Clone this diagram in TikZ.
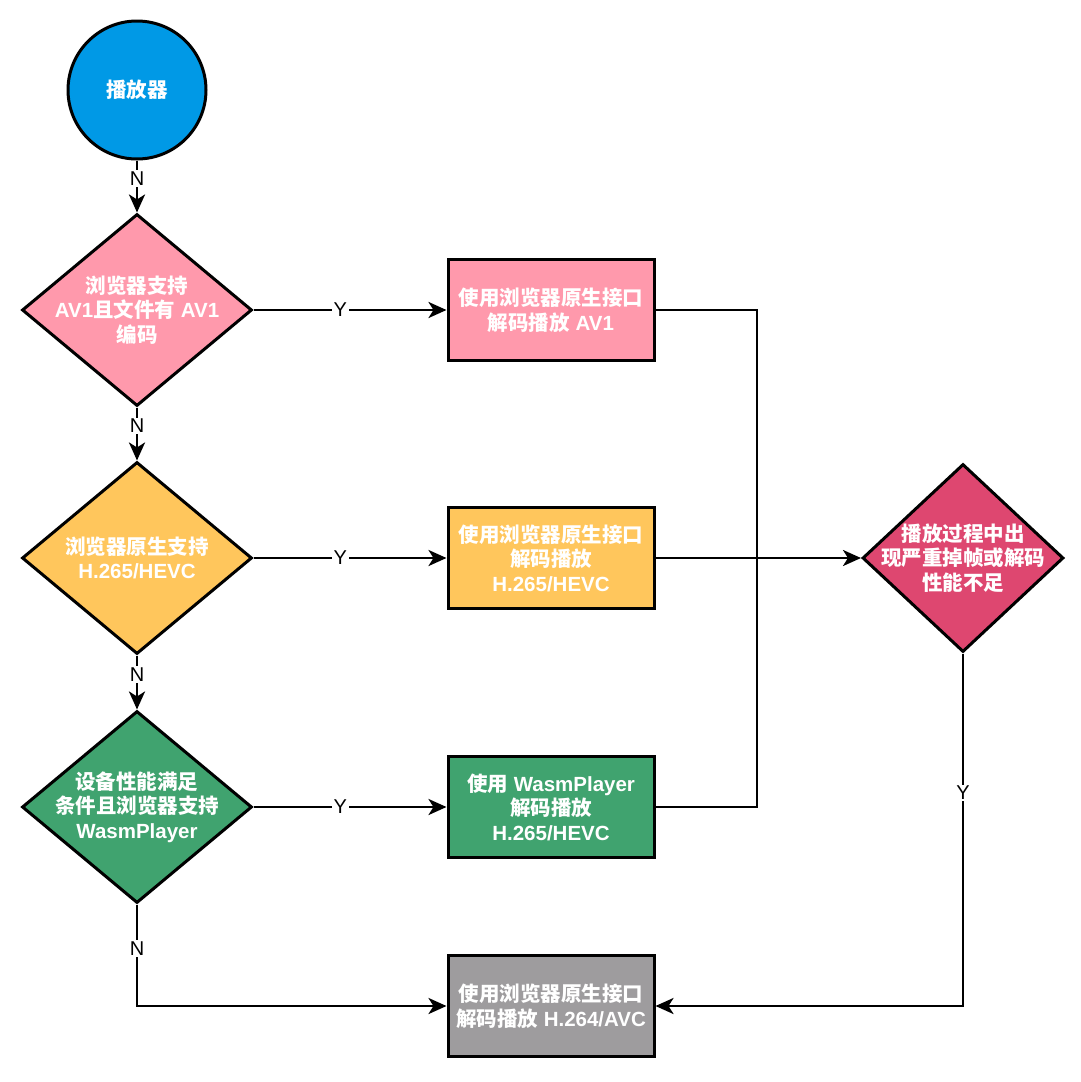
\documentclass[tikz,border=0pt]{standalone}
\usepackage{fontspec}
\setmainfont{Liberation Sans}
\newfontfamily\cjk{Noto Sans CJK SC}
\usetikzlibrary{shapes.geometric,arrows.meta}
\definecolor{cblue}{RGB}{0,153,230}
\definecolor{cpink}{RGB}{255,153,172}
\definecolor{cyellow}{RGB}{255,198,92}
\definecolor{cgreen}{RGB}{64,163,111}
\definecolor{cred}{RGB}{222,71,112}
\definecolor{cgray}{RGB}{158,156,158}
\tikzset{
  base/.style={draw=black, line width=3pt, inner sep=0pt},
  startnode/.style={base, circle, minimum size=138pt},
  dia/.style={base, diamond, minimum width=230pt, minimum height=192pt},
  rdia/.style={base, diamond, minimum width=201pt, minimum height=188pt},
  procbox/.style={base, rectangle, minimum width=206pt, minimum height=101pt},
  txt/.style={text=white, align=center, font=\bfseries\fontsize{20.5}{24.5}\selectfont},
  conn/.style={line width=2.8pt, -{Stealth[length=18pt,width=16pt,inset=5pt]}},
  lbl/.style={fill=white, inner sep=1.5pt, font=\fontsize{20}{22}\selectfont, text=black}
}
\newcommand{\zh}[1]{{\cjk #1}}
\begin{document}
\begin{tikzpicture}[x=1pt,y=-1pt]
\fill[white] (0,0) rectangle (1080,1082);
\useasboundingbox (0,0) rectangle (1080,1082);
% shapes
\node[startnode, fill=cblue] (start) at (137,90) {};
\node[txt] at (start) {\zh{播放器}};
\node[dia, fill=cpink] (d1) at (137,310) {};
\node[txt] at (d1) {\zh{浏览器支持}\\AV1\zh{且文件有} AV1\\\zh{编码}};
\node[dia, fill=cyellow] (d2) at (137,558) {};
\node[txt] at (d2) {\zh{浏览器原生支持}\\H.265/HEVC};
\node[dia, fill=cgreen] (d3) at (137,807) {};
\node[txt] at (d3) {\zh{设备性能满足}\\\zh{条件且浏览器支持}\\WasmPlayer};
\node[procbox, fill=cpink] (b1) at (551,310) {};
\node[txt] at (b1) {\zh{使用浏览器原生接口}\\\zh{解码播放} AV1};
\node[procbox, fill=cyellow] (b2) at (551,558) {};
\node[txt] at (b2) {\zh{使用浏览器原生接口}\\\zh{解码播放}\\H.265/HEVC};
\node[procbox, fill=cgreen] (b3) at (551,807) {};
\node[txt] at (b3) {\zh{使用} WasmPlayer\\\zh{解码播放}\\H.265/HEVC};
\node[procbox, fill=cgray] (b4) at (551,1006) {};
\node[txt] at (b4) {\zh{使用浏览器原生接口}\\\zh{解码播放} H.264/AVC};
\node[rdia, fill=cred] (d4) at (963,558) {};
\node[txt] at (d4) {\zh{播放过程中出}\\\zh{现严重掉帧或解码}\\\zh{性能不足}};
\coordinate (j) at (757,558);
% connectors
\draw[conn] (start) -- node[lbl, pos=0.35] {N} (d1);
\draw[conn] (d1) -- node[lbl, pos=0.35] {N} (d2);
\draw[conn] (d2) -- node[lbl, pos=0.35] {N} (d3);
\draw[conn] (d1) -- node[lbl, pos=0.45] {Y} (b1);
\draw[conn] (d2) -- node[lbl, pos=0.45] {Y} (b2);
\draw[conn] (d3) -- node[lbl, pos=0.45] {Y} (b3);
\draw[conn] (b2) -- (d4);
\draw[line width=2.8pt] (b1.east) -| (j);
\draw[line width=2.8pt] (b3.east) -| (j);
\draw[conn] (d3.south) |- node[lbl, pos=0.216] {N} (b4.west);
\draw[conn] (d4.south) |- node[lbl, pos=0.198] {Y} (b4.east);
\end{tikzpicture}
\end{document}
